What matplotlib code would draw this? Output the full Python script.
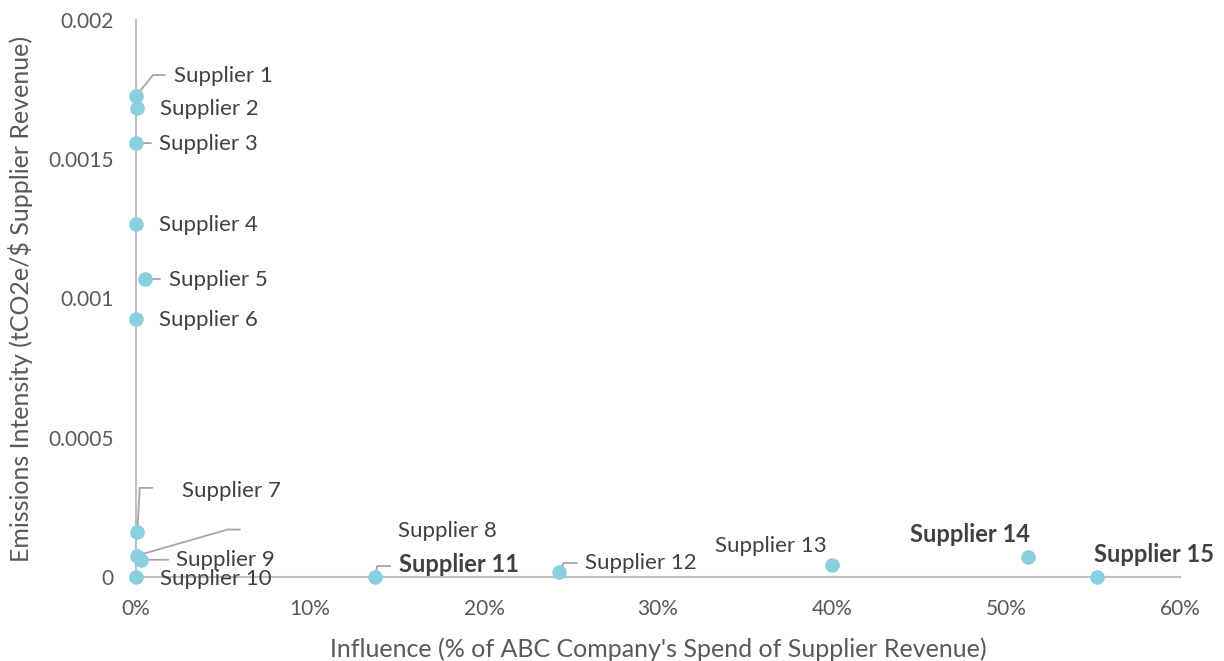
import matplotlib
matplotlib.use("Agg")
import matplotlib.pyplot as plt
from matplotlib.ticker import FuncFormatter, MultipleLocator

# supplier influence (share of supplier revenue) vs emissions intensity
suppliers = [f"Supplier {i}" for i in range(1, 16)]
influence = [0.0000, 0.0008, 0.0000, 0.0000, 0.0052, 0.0000, 0.0008, 0.0006,
             0.0030, 0.0000, 0.1375, 0.2430, 0.4000, 0.5125, 0.5525]
intensity = [0.001727, 0.001684, 0.001558, 0.001268, 0.001070, 0.000926,
             0.000162, 0.000077, 0.000062, 0.0, 0.0, 0.000018, 0.000043,
             0.000072, 0.0]
highlight = [False] * 10 + [True, False, False, True, True]

# label layout: text offset in pixels, alignment, leader (end offset, elbow angle)
label_offsets = [(38, 20), (23, -1), (23, -1), (23, -1), (24, -1), (23, -1),
                 (45, 41), (261, 25), (35, 0), (24, -2), (24, 12), (26, 9),
                 (-5, 19), (2, 22), (-3, 22)]
label_ha = ["left"] * 12 + ["right", "right", "left"]
leaders = {
    0: ((29, 21), 51),
    2: ((15, 0), None),
    4: ((15, 0), None),
    6: ((15, 44), 87),
    7: ((103, 26), 16),
    8: ((27, 0), None),
    10: ((15, 11), 80),
    11: ((18, 9), 61),
}

plt.rcParams["font.family"] = ["Lato", "DejaVu Sans"]
text_color = "#404040"
axis_color = "#bfbfbf"
point_color = "#89cfdd"

fig = plt.figure(figsize=(12.24, 6.61), dpi=100)
ax = fig.add_axes([136 / 1224, 1 - 577 / 661, (1180 - 136) / 1224, (577 - 20) / 661])

ax.scatter(influence, intensity, s=110, color=point_color, zorder=3,
           clip_on=False, linewidths=0)

for i, name in enumerate(suppliers):
    if i in leaders:
        (ex, ey), ang = leaders[i]
        style = "arc3,rad=0" if ang is None else f"angle,angleA=0,angleB={ang},rad=0"
        ax.annotate("", xy=(influence[i], intensity[i]), xytext=(ex, ey),
                    textcoords="offset pixels",
                    arrowprops=dict(arrowstyle="-", color="#a6a6a6", lw=1.3,
                                    shrinkA=0, shrinkB=0, connectionstyle=style),
                    annotation_clip=False, zorder=2)
    ax.annotate(name, xy=(influence[i], intensity[i]), xytext=label_offsets[i],
                textcoords="offset pixels", ha=label_ha[i], va="center",
                fontsize=17 if highlight[i] else 16, color=text_color,
                fontweight="bold" if highlight[i] else "normal",
                annotation_clip=False, zorder=4)

ax.set_xlim(0, 0.6)
ax.set_ylim(0, 0.002)
ax.xaxis.set_major_locator(MultipleLocator(0.1))
ax.xaxis.set_major_formatter(FuncFormatter(lambda v, _: f"{v * 100:.0f}%"))
ax.yaxis.set_major_locator(MultipleLocator(0.0005))
ax.yaxis.set_major_formatter(FuncFormatter(lambda v, _: "0" if v == 0 else f"{v:g}"))

for side in ("top", "right"):
    ax.spines[side].set_visible(False)
for side in ("left", "bottom"):
    ax.spines[side].set_color(axis_color)
    ax.spines[side].set_linewidth(1.5)
ax.tick_params(length=0, labelsize=15, labelcolor="#595959", pad=16)

ax.set_xlabel("Influence (% of ABC Company's Spend of Supplier Revenue)",
              fontsize=18, color="#595959", labelpad=13)
ax.set_ylabel("Emissions Intensity (tCO2e/$ Supplier Revenue)",
              fontsize=18, color="#595959", labelpad=11)

fig.savefig("out.png", dpi=100)
